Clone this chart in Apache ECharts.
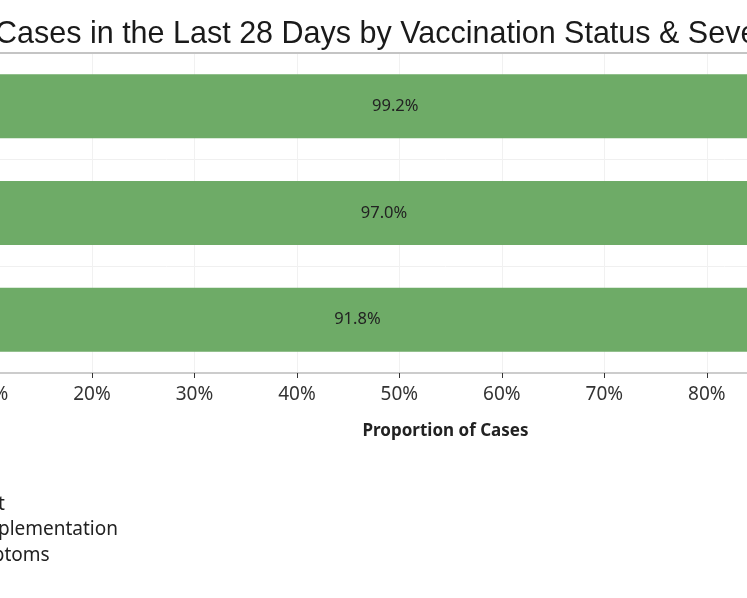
<!DOCTYPE html>
<html><head><meta charset="utf-8">
<script src="https://cdn.jsdelivr.net/npm/echarts@6/dist/echarts.min.js"></script>
<style>
html,body{margin:0;padding:0;width:747px;height:598px;overflow:hidden;background:#fff;position:relative}
#chart{position:absolute;left:-400px;top:0;width:1600px;height:598px}
</style></head>
<body><div id="chart"></div>
<script>
// ---- data ----
const titleText = 'Cases in the Last 28 Days by Vaccination Status & Severity';
const categories = ['Deaths', 'Hospitalizations', 'Cases'];
const seriesNames = ['Unvaccinated at First Test', 'Fully Vaccinated After Implementation', 'Vaccinated Without Symptoms'];
const greenValues = [99.2, 97.0, 91.8];
const secondValues = [0.3, 1.2, 3.5];
const thirdValues = [0.5, 1.8, 4.7];
const axisTitle = 'Proportion of Cases';
const xMin = 0, xMax = 109, xStep = 10;

// ---- layout ----
const OFFSET = 400; // chart canvas starts 400px left of the window
const FONT = '"Noto Sans", sans-serif';
const ctx = document.createElement('canvas').getContext('2d');
ctx.font = '19px "Noto Sans"';
const w2 = ctx.measureText(seriesNames[1]).width;
const legendLeft = OFFSET + 118 - w2 - 14 - 5;

const chart = echarts.init(document.getElementById('chart'), null, {renderer: 'canvas'});
const colors = ['#6eab67', '#f1ce63', '#e15759'];
const values = [greenValues, secondValues, thirdValues];

chart.setOption({
  animation: false,
  color: colors,
  graphic: [{
    type: 'text', x: OFFSET - 5, y: 35,
    style: {text: titleText, font: '30.5px "Liberation Sans", Arial, sans-serif', fill: '#1a1a1a', verticalAlign: 'middle'}
  }],
  legend: {
    data: seriesNames, orient: 'vertical', left: legendLeft, top: 495, padding: 0,
    itemGap: 6.5, itemWidth: 14, itemHeight: 14, icon: 'rect',
    textStyle: {fontSize: 19, fontFamily: FONT, color: '#222'}
  },
  grid: {left: OFFSET - 113, top: 53, width: 1117, height: 320},
  xAxis: [{
    type: 'value', position: 'bottom', min: xMin, max: xMax, interval: xStep,
    axisLine: {show: true, lineStyle: {color: '#cccccc', width: 2}},
    axisTick: {show: true, length: 5, lineStyle: {color: '#333'}},
    axisLabel: {formatter: v => (v % 10 === 0 ? v + '%' : ''), fontSize: 19, fontFamily: FONT, color: '#333', margin: 12},
    splitLine: {show: true, lineStyle: {color: '#f1f1f1', width: 1}},
    name: axisTitle, nameLocation: 'middle', nameGap: 50,
    nameTextStyle: {fontSize: 17, fontWeight: 'bold', fontFamily: FONT, color: '#222'}
  }, {
    type: 'value', position: 'top', min: xMin, max: xMax, interval: xStep,
    axisLine: {show: true, lineStyle: {color: '#c4c4c4', width: 2}},
    axisTick: {show: false}, axisLabel: {show: false}, splitLine: {show: false}
  }],
  yAxis: {
    type: 'category', data: categories, inverse: true,
    axisLine: {show: false}, axisTick: {show: false}, axisLabel: {show: false},
    splitLine: {show: true, lineStyle: {color: '#f0f0f0', width: 1}}
  },
  series: seriesNames.map((name, i) => ({
    name, type: 'bar', stack: 'total', barWidth: 64, data: values[i],
    label: {
      show: i === 0, position: 'inside', formatter: p => p.value.toFixed(1) + '%',
      fontSize: 16.5, fontFamily: FONT, color: '#222'
    }
  }))
});
</script>
</body></html>
